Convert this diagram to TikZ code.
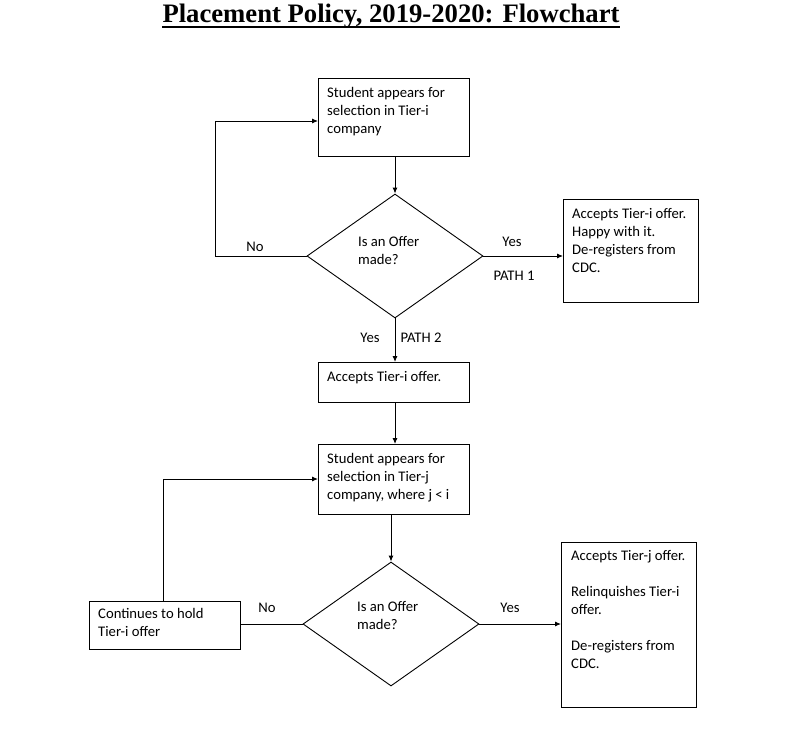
\documentclass[tikz,border=0pt]{standalone}
\usepackage{fontspec}
\setmainfont{Carlito}
\newfontfamily\titlefont{Liberation Serif}
\usetikzlibrary{arrows.meta,shapes.geometric}
\begin{document}
\begin{tikzpicture}[x=1pt,y=-1pt,
  box/.style={draw, line width=0.9pt, inner sep=0, anchor=north west},
  dec/.style={draw, diamond, line width=0.9pt, inner sep=0, minimum width=176pt, minimum height=124pt},
  txt/.style={inner sep=0, anchor=base west, font=\fontsize{14.67}{18}\selectfont},
  lbl/.style={inner sep=0, anchor=base, font=\fontsize{14.67}{18}\selectfont},
  conn/.style={line width=0.9pt},
  arr/.style={line width=0.9pt, -{Latex[length=6pt,width=5pt]}}]
\fill[white] (0,0) rectangle (795,744);
\useasboundingbox (0,0) rectangle (795,744);
% title
\node[inner sep=0, anchor=base, font=\titlefont\bfseries\fontsize{26.67}{30}\selectfont] (title) at (391,23) {Placement Policy, 2019-2020: Flowchart};
\draw[line width=1.5pt] ([yshift=-4pt]title.base west) -- ([yshift=-4pt]title.base east);
% boxes
\node[box, minimum width=151pt, minimum height=78pt] (b1) at (318,78) {};
\node[box, minimum width=135pt, minimum height=103pt] (r1) at (563,199) {};
\node[box, minimum width=151pt, minimum height=40pt] (b2) at (318,362) {};
\node[box, minimum width=151pt, minimum height=70pt] (b3) at (318,444) {};
\node[box, minimum width=151pt, minimum height=48pt] (b4) at (89,601) {};
\node[box, minimum width=135pt, minimum height=165pt] (b5) at (561,542) {};
\node[dec] (d1) at (395,256) {};
\node[dec] (d2) at (391,624) {};
% texts
\node[txt] (t1) at (327,97) {\begin{tabular}[t]{@{}l@{}}Student appears for\\selection in Tier-i\\company\end{tabular}};
\node[txt] (tr1) at (572,218) {\begin{tabular}[t]{@{}l@{}}Accepts Tier-i offer.\\Happy with it.\\De-registers from\\CDC.\end{tabular}};
\node[txt] (td1) at (358,246) {\begin{tabular}[t]{@{}l@{}}Is an Offer\\made?\end{tabular}};
\node[txt] (t2) at (327,381) {Accepts Tier-i offer.};
\node[txt] (t3) at (327,463) {\begin{tabular}[t]{@{}l@{}}Student appears for\\selection in Tier-j\\company, where j < i\end{tabular}};
\node[txt] (td2) at (357,611) {\begin{tabular}[t]{@{}l@{}}Is an Offer\\made?\end{tabular}};
\node[txt] (t4) at (98,618) {\begin{tabular}[t]{@{}l@{}}Continues to hold\\Tier-i offer\end{tabular}};
\node[txt] (t5) at (571,560) {\begin{tabular}[t]{@{}l@{}}Accepts Tier-j offer.\\ \\Relinquishes Tier-i\\offer.\\ \\De-registers from\\CDC.\end{tabular}};
% labels
\node[lbl] (no1) at (255,251) {No};
\node[lbl] (yes1) at (512,246) {Yes};
\node[lbl] (p1) at (514,280) {PATH 1};
\node[lbl] (yes2) at (370,342) {Yes};
\node[lbl] (p2) at (421,342) {PATH 2};
\node[lbl] (no2) at (267,612) {No};
\node[lbl] (yes3) at (510,612) {Yes};
% connectors
\coordinate (c1) at (215,121);
\coordinate (c2) at (163,479);
\draw[arr] (d1.north |- b1.south) -- (d1.north);
\draw[arr] (d1.west) -| (c1) -- (b1.west |- c1);
\draw[arr] (d1.east) -- (r1.west |- d1.east);
\draw[arr] (d1.south) -- (d1.south |- b2.north);
\draw[arr] (d1.south |- b2.south) -- (d1.south |- b3.north);
\draw[arr] (d2.north |- b3.south) -- (d2.north);
\draw[conn] (d2.west) -- (b4.east |- d2.west);
\draw[arr] (b4.north -| c2) -- (c2) -- (b3.west |- c2);
\draw[arr] (d2.east) -- (b5.west |- d2.east);
\end{tikzpicture}
\end{document}
